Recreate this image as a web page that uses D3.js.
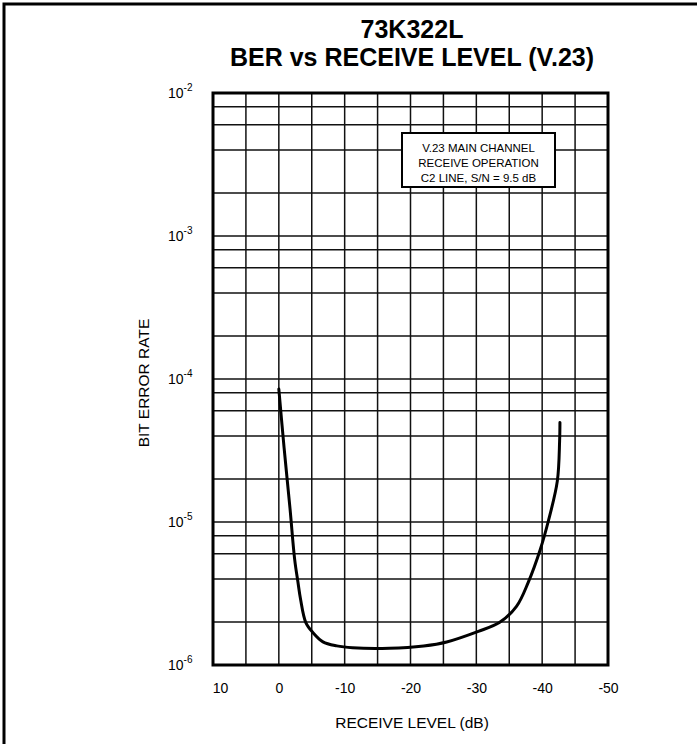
<!DOCTYPE html>
<html>
<head>
<meta charset="utf-8">
<script src="https://cdn.jsdelivr.net/npm/d3@7"></script>
<style>
  body { margin: 0; background: #fff; }
  svg { display: block; font-family: "Liberation Sans", Arial, sans-serif; }
  .grid line { stroke: #111; stroke-width: 1.5; }
  .axis text { fill: #000; }
</style>
</head>
<body>
<svg id="chart" width="697" height="744"></svg>
<script>
// receive level (dB) and bit error rate
var levels = [0, -0.8, -1.7, -2.4, -2.9, -3.3, -4.1, -5.2, -6.7, -8.8, -11.2, -16.8, -22, -25.5, -30.3, -33.5, -36.1, -37.9, -39.7, -40.9, -42.3, -42.65, -42.7];
var ber = [8.5e-5, 3.3e-5, 1.24e-5, 5.5e-6, 3.8e-6, 2.88e-6, 1.98e-6, 1.68e-6, 1.45e-6, 1.36e-6, 1.32e-6, 1.31e-6, 1.36e-6, 1.45e-6, 1.72e-6, 1.98e-6, 2.57e-6, 3.8e-6, 6.4e-6, 1.0e-5, 1.93e-5, 3.7e-5, 4.97e-5];

var xTicks = [10, 0, -10, -20, -30, -40, -50];
var xGrid = [5, 0, -5, -10, -15, -20, -25, -30, -35, -40, -45];
var decades = [-6, -5, -4, -3, -2];
var minors = [2, 4, 6, 8];
var noteLines = ["V.23 MAIN CHANNEL", "RECEIVE OPERATION", "C2 LINE, S/N = 9.5 dB"];

var svg = d3.select("#chart");
var pLeft = 213, pRight = 608, pTop = 93, pBottom = 665;

var x = d3.scaleLinear().domain([10, -50]).range([pLeft, pRight]);
var y = d3.scaleLog().domain([1e-6, 1e-2]).range([pBottom, pTop]);

// outer frame (only top and left edges are in view)
svg.append("rect")
  .attr("x", 4).attr("y", 4).attr("width", 900).attr("height", 900)
  .attr("fill", "none").attr("stroke", "#000").attr("stroke-width", 3);

// titles
svg.append("text").attr("x", 412).attr("y", 38)
  .attr("text-anchor", "middle").attr("font-weight", "bold").attr("font-size", 25)
  .text("73K322L");
svg.append("text").attr("x", 412).attr("y", 66)
  .attr("text-anchor", "middle").attr("font-weight", "bold").attr("font-size", 25)
  .text("BER vs RECEIVE LEVEL (V.23)");

// grid
var hVals = [];
decades.forEach(function(d) {
  hVals.push(Math.pow(10, d));
  if (d < -2) minors.forEach(function(m) { hVals.push(m * Math.pow(10, d)); });
});

var grid = svg.append("g").attr("class", "grid");
grid.selectAll("line.v").data(xGrid).enter().append("line")
  .attr("class", "v")
  .attr("x1", function(d) { return x(d); }).attr("x2", function(d) { return x(d); })
  .attr("y1", pTop).attr("y2", pBottom);
grid.selectAll("line.h").data(hVals).enter().append("line")
  .attr("class", "h")
  .attr("x1", pLeft).attr("x2", pRight)
  .attr("y1", function(d) { return y(d); }).attr("y2", function(d) { return y(d); });

// plot border
svg.append("rect")
  .attr("x", pLeft).attr("y", pTop).attr("width", pRight - pLeft).attr("height", pBottom - pTop)
  .attr("fill", "none").attr("stroke", "#000").attr("stroke-width", 3);

// note box
var box = svg.append("g");
box.append("rect")
  .attr("x", 402).attr("y", 133).attr("width", 153).attr("height", 54)
  .attr("fill", "#fff").attr("stroke", "#000").attr("stroke-width", 2);
box.selectAll("text").data(noteLines).enter().append("text")
  .attr("x", 478.5).attr("y", function(d, i) { return 152 + i * 15; })
  .attr("text-anchor", "middle").attr("font-size", 11.5)
  .text(function(d) { return d; });

// curve
var pts = levels.map(function(d, i) { return [d, ber[i]]; });
var line = d3.line()
  .x(function(d) { return x(d[0]); })
  .y(function(d) { return y(d[1]); })
  .curve(d3.curveCatmullRom.alpha(0.5));
svg.append("path").datum(pts)
  .attr("d", line)
  .attr("fill", "none").attr("stroke", "#000").attr("stroke-width", 3)
  .attr("stroke-linecap", "round");

// x axis labels
var xAxis = svg.append("g").attr("class", "axis")
  .attr("transform", "translate(0," + pBottom + ")")
  .call(d3.axisBottom(x).tickValues(xTicks).tickSize(0).tickPadding(18)
    .tickFormat(function(d) { return d3.format("d")(d).replace("−", "-"); }));
xAxis.select(".domain").remove();
xAxis.selectAll("text").attr("font-size", 14).attr("font-family", "Liberation Sans, Arial, sans-serif")
  .attr("dx", function(d) { return d === 10 ? 7 : 0; });

// y axis labels with superscript exponents
var yAxis = svg.append("g").attr("class", "axis")
  .attr("transform", "translate(" + pLeft + ",0)")
  .call(d3.axisLeft(y).tickValues(decades.map(function(d) { return Math.pow(10, d); }))
    .tickSize(0).tickPadding(26).tickFormat(function() { return ""; }));
yAxis.select(".domain").remove();
yAxis.selectAll(".tick text").each(function(d) {
  var t = d3.select(this).attr("font-size", 14).attr("font-family", "Liberation Sans, Arial, sans-serif")
    .attr("text-anchor", "start").attr("x", -45).attr("dy", "0.35em");
  t.append("tspan").text("10");
  t.append("tspan").attr("font-size", 10).attr("dy", "-0.75em")
    .text("-" + Math.round(-Math.log10(d)));
});

// axis titles
svg.append("text").attr("x", 412).attr("y", 728)
  .attr("text-anchor", "middle").attr("font-size", 15.5)
  .text("RECEIVE LEVEL (dB)");
svg.append("text")
  .attr("transform", "translate(149,383) rotate(-90)")
  .attr("text-anchor", "middle").attr("font-size", 15.5)
  .text("BIT ERROR RATE");
</script>
</body>
</html>
